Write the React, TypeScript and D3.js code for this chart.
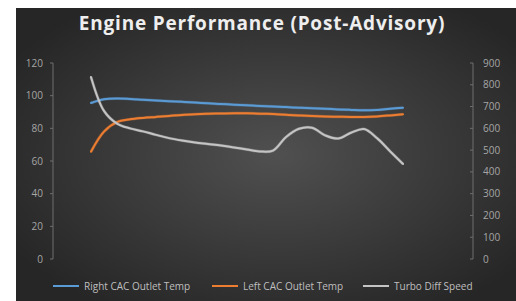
import React from "react";
import * as d3 from "d3";

const W = 516,
  H = 301;

// sample positions along the run (evenly spaced readings)
const samples = d3.range(25);

const rightCac = [
  95.5, 97.8, 98.3, 98.0, 97.5, 97.0, 96.6, 96.2, 95.8, 95.3, 94.9, 94.5, 94.1, 93.7, 93.3, 93.0, 92.6, 92.3, 92.0,
  91.6, 91.3, 91.1, 91.3, 92.0, 92.6,
];
const leftCac = [
  65.7, 78.0, 83.8, 85.5, 86.4, 87.0, 87.6, 88.2, 88.6, 88.9, 89.1, 89.2, 89.2, 89.0, 88.7, 88.3, 87.9, 87.6, 87.3,
  87.1, 87.0, 87.0, 87.3, 87.9, 88.6,
];
const turboDiff = [
  836, 680, 622, 600, 586, 570, 555, 544, 535, 528, 521, 512, 503, 494, 498, 560, 598, 603, 568, 553, 580, 597, 555,
  495, 436,
];

const leftTicks = [0, 20, 40, 60, 80, 100, 120];
const rightTicks = [0, 100, 200, 300, 400, 500, 600, 700, 800, 900];

const seriesNames = ["Right CAC Outlet Temp", "Left CAC Outlet Temp", "Turbo Diff Speed"];
const seriesColors = ["#5b9bd5", "#ed7d31", "#c4c4c4"];

// plot area
const plotLeft = 53,
  plotRight = 473,
  plotTop = 63,
  plotBottom = 259;

export default function App() {
  const x = d3.scaleLinear().domain([-2.92, 29.38]).range([plotLeft, plotRight]);
  const yL = d3.scaleLinear().domain([0, 120]).range([plotBottom, plotTop]);
  const yR = d3.scaleLinear().domain([0, 900]).range([plotBottom, plotTop]);

  const curve = d3.curveCatmullRom.alpha(0.5);
  const lineL = d3
    .line<number>()
    .x((_, i) => x(samples[i]))
    .y((d) => yL(d))
    .curve(curve);
  const lineR = d3
    .line<number>()
    .x((_, i) => x(samples[i]))
    .y((d) => yR(d))
    .curve(curve);

  const paths = [lineL(rightCac), lineL(leftCac), lineR(turboDiff)];

  const legendX = [53, 212, 363];

  return (
    <svg width={W} height={H} style={{ position: "absolute", left: 0, top: 0 }} fontFamily="'Open Sans', sans-serif">
      <defs>
        <radialGradient id="bg" cx="52%" cy="50%" r="62%">
          <stop offset="0%" stopColor="#505050" />
          <stop offset="100%" stopColor="#262626" />
        </radialGradient>
        <filter id="glow" x="-10%" y="-10%" width="120%" height="120%">
          <feGaussianBlur stdDeviation="0.6" />
        </filter>
      </defs>
      <rect width={W} height={H} fill="#ffffff" />
      <rect x={16} y={8} width={W - 16} height={H - 8} fill="url(#bg)" />

      <text x={262} y={30} textAnchor="middle" fontSize={19} letterSpacing={0.8} fontWeight="bold" fill="#eeeeee">
        Engine Performance (Post-Advisory)
      </text>

      {/* left axis */}
      <line x1={plotLeft} x2={plotLeft} y1={plotTop} y2={plotBottom} stroke="#6e6e6e" strokeWidth={1} />
      {leftTicks.map((t) => (
        <g key={t}>
          <line x1={plotLeft - 3} x2={plotLeft} y1={yL(t)} y2={yL(t)} stroke="#6e6e6e" />
          <text x={43} y={yL(t)} dy="0.35em" textAnchor="end" fontSize={10} fill="#a6a6a6">
            {t}
          </text>
        </g>
      ))}

      {/* right axis */}
      <line x1={plotRight} x2={plotRight} y1={plotTop} y2={plotBottom} stroke="#6e6e6e" strokeWidth={1} />
      {rightTicks.map((t) => (
        <g key={t}>
          <line x1={plotRight - 3} x2={plotRight} y1={yR(t)} y2={yR(t)} stroke="#6e6e6e" />
          <text x={483} y={yR(t)} dy="0.35em" textAnchor="start" fontSize={10} fill="#a6a6a6">
            {t}
          </text>
        </g>
      ))}

      {paths.map((p, i) => (
        <g key={i}>
          <path d={p || ""} fill="none" stroke={seriesColors[i]} strokeWidth={3} opacity={0.35} filter="url(#glow)" />
          <path d={p || ""} fill="none" stroke={seriesColors[i]} strokeWidth={2} strokeLinecap="round" />
        </g>
      ))}

      {/* legend */}
      {seriesNames.map((n, i) => (
        <g key={n} transform={`translate(${legendX[i]},286)`}>
          <line x1={0} x2={26} y1={0} y2={0} stroke={seriesColors[i]} strokeWidth={2} />
          <text x={31} y={0} dy="0.35em" fontSize={10} fill="#bfbfbf">
            {n}
          </text>
        </g>
      ))}
    </svg>
  );
}
